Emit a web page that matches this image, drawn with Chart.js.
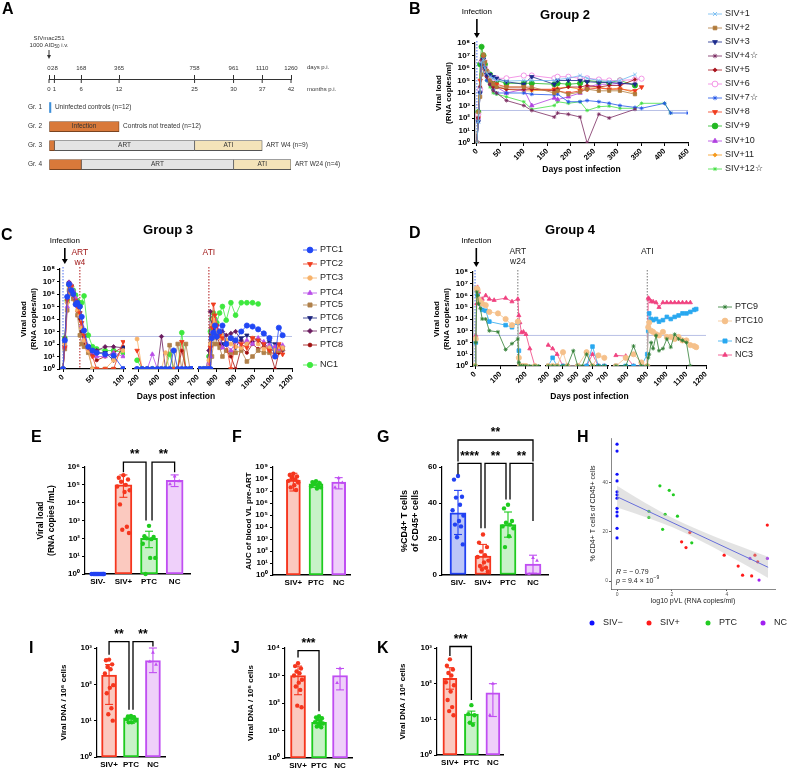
<!DOCTYPE html>
<html>
<head>
<meta charset="utf-8">
<title>SIV viral load figure</title>
<script src="https://cdn.jsdelivr.net/npm/chart.js@4.4.1/dist/chart.umd.min.js"></script>
<style>
  body { margin: 0; width: 793px; height: 772px; position: relative; overflow: hidden; background: #fff;
         font-family: "Liberation Sans", Arial, sans-serif; }
  canvas { position: absolute; }
  .lab { position: absolute; font-weight: bold; font-size: 16px; line-height: 1; }
  .ttl { position: absolute; font-weight: bold; font-size: 13px; line-height: 1; transform: translateX(-50%); white-space: nowrap; }
</style>
</head>
<body>
<canvas id="cA" width="400" height="185" style="left:0;top:0"></canvas>
<canvas id="cB" width="393" height="185" style="left:400px;top:0"></canvas>
<canvas id="cC" width="400" height="185" style="left:0;top:225px"></canvas>
<canvas id="cD" width="393" height="185" style="left:400px;top:225px"></canvas>
<canvas id="cE" width="180" height="160" style="left:20px;top:440px"></canvas>
<canvas id="cF" width="145" height="160" style="left:215px;top:440px"></canvas>
<canvas id="cG" width="185" height="180" style="left:375px;top:420px"></canvas>
<canvas id="cH" width="223" height="210" style="left:570px;top:430px"></canvas>
<canvas id="cI" width="160" height="147" style="left:20px;top:625px"></canvas>
<canvas id="cJ" width="150" height="147" style="left:215px;top:625px"></canvas>
<canvas id="cK" width="145" height="147" style="left:370px;top:625px"></canvas>

<div class="lab" style="left:2px;top:1px">A</div>
<div class="lab" style="left:409px;top:1px">B</div>
<div class="lab" style="left:1px;top:227px">C</div>
<div class="lab" style="left:409px;top:225px">D</div>
<div class="lab" style="left:31px;top:429px">E</div>
<div class="lab" style="left:232px;top:429px">F</div>
<div class="lab" style="left:377px;top:429px">G</div>
<div class="lab" style="left:577px;top:429px">H</div>
<div class="lab" style="left:29px;top:640px">I</div>
<div class="lab" style="left:231px;top:640px">J</div>
<div class="lab" style="left:377px;top:640px">K</div>
<div class="ttl" style="left:565px;top:8px">Group 2</div>
<div class="ttl" style="left:168px;top:223px">Group 3</div>
<div class="ttl" style="left:570px;top:223px">Group 4</div>

<script>
// ---------- A : study design ----------
const aRows = ['', 'Gr. 1', 'Gr. 2', 'Gr. 3', 'Gr. 4'];
const aDays = [0, 28, 168, 365, 758, 961, 1110, 1260];
const aMonths = [0, 1, 6, 12, 25, 30, 37, 42];
const aUninfected = [null, [0, 10], null, null, null];
const aInfection = [null, null, [0, 365], [0, 28], [0, 168]];
const aART = [null, null, null, [28, 758], [168, 961]];
const aATI = [null, null, null, [758, 1110], [961, 1260]];
const aNotes = ['', 'Uninfected controls (n=12)', 'Controls not treated (n=12)', 'ART W4 (n=9)', 'ART W24 (n=4)'];

// ---------- B : Group 2 (untreated) ----------
const g2Days = [0, 3, 7, 10, 14, 17, 21, 28, 35, 42, 63, 100, 117, 165, 172, 195, 220, 235, 260, 282, 305, 337, 351, 400, 413, 450];
const g2Names = ['SIV+1', 'SIV+2', 'SIV+3', 'SIV+4☆', 'SIV+5', 'SIV+6', 'SIV+7☆', 'SIV+8', 'SIV+9', 'SIV+10', 'SIV+11', 'SIV+12☆'];
const SIV1 = [1, 50, 2e4, 3e6, 5e6, 1e6, 4e5, 2e5, 1.5e5, 1e5, 9e4, 1e5, 1e5, 1e5, 1.2e5, 1.5e5, 2.5e5, 1.5e5, 1e5, 8e4, 1e5, 3e5, null, null, null, null];
const SIV2 = [1, 300, 5e3, 3e5, 1.2e7, 3e6, 6e5, 1e5, 5e4, 3e4, 3e4, 3e4, 3e4, 1e4, 1.5e4, 8e3, 1.2e4, 2e4, 1.5e4, 1.5e4, 1.5e4, 8e3, null, null, null, null];
const SIV3 = [1, 50, 1e4, 2e6, 5e6, 1e6, 3e5, 3e5, 2e5, 1.5e5, 8e4, 5e4, 2e5, 5e4, 1e5, 1e5, 1e5, 8e4, 7e4, 7e4, 6e4, 5e4, null, null, null, null];
const SIV4 = [1, 100, 3e4, 5e6, 3e6, 8e5, 2e5, 5e4, 1.5e4, 1e4, 2.5e3, 1e3, 400, 120, 250, 200, 120, 1, 200, 100, null, 500, null, null, null, null];
const SIV5 = [1, 100, 3e4, 4e6, 3e6, 8e5, 2e5, 5e4, 3e4, 3e4, 2e4, 2e4, 2e4, 1.5e4, 2e4, 3e4, 3e4, 4e4, 3e4, 4e4, 4e4, 1.2e5, null, null, null, null];
const SIV6 = [1, 200, 2e4, 3e6, 4e6, 1e6, 5e5, 2e5, 1.5e5, 1.5e5, 1.5e5, 2.5e5, 2.5e5, 1.5e5, 2e5, 2e5, 1.5e5, 1.5e5, 1.2e5, 1e5, 1e5, 1.2e5, 1.4e5, null, null, null];
const SIV7 = [1, 50, 1e4, 2e6, 3e6, 5e5, 1e5, 5e4, 2e4, 1e4, 1e4, 1e4, 8e3, 7e3, 8e3, 2e3, 2e3, 2.5e3, 2e3, 1.5e3, 1e3, 700, 600, 1.5e3, 250, 250];
const SIV8 = [1, 100, 1e5, 3e6, 8e6, 3e6, 5e5, 1e5, 6e4, 5e4, 3e4, 3e4, 2e4, 2e4, 1.5e4, 1e4, 1.5e4, 2e4, 2.5e4, 2e4, 2e4, 1.5e4, 3e4, null, null, null];
const SIV9 = [1, 300, 2e6, 5e7, 1e7, 2e6, 5e5, 3e5, 1e5, 1e5, 6e4, 6e4, 6e4, 5e4, 6e4, 5e4, 6e4, 1e5, 8e4, 7e4, 1e5, 4e4, null, null, null, null];
const SIV10 = [1, 100, 2e4, 3e6, 5e6, 1e6, 3e5, 1e5, 5e4, 3e4, 1e4, 2e4, 1e3, 4e3, 3e3, 5e3, 1e4, 3e4, 5e4, 5e4, 6e4, 5e4, null, null, null, null];
const SIV11 = [1, 200, 3e4, 4e6, 6e6, 1.5e6, 3e5, 1e5, 4e4, 3e4, 2e4, 1.5e4, 1.5e4, 2e4, 2.5e4, 3e4, 2e4, 3e4, 3e4, 2e4, 2.5e4, 1e4, null, null, null, null];
const SIV12 = [1, 100, 2e4, 2e6, 3e6, 5e5, 1e5, 3e4, 1e4, 8e3, 5e3, 2e3, 500, 1e3, 2e3, 1.5e3, 2e3, 400, 800, 900, 600, 600, 1.5e3, 1.5e3, 250, null];
const g2Ticks = [0, 50, 100, 150, 200, 250, 300, 350, 400, 450];

// ---------- C : Group 3 (ART week 4) ----------
const g3Days = [0, 3, 7, 10, 14, 17, 21, 24, 28, 31, 35, 42, 49, 56, 70, 84, 100,
  190, 240, 290, 340, 390, 430, 470, 510, 550, 590, 630, 670, 710,
  730, 745, 758, 766, 774, 782, 790, 800, 815, 830, 850, 875, 900, 930, 960, 990, 1020, 1050, 1080, 1110, 1130, 1150];
const g3Names = ['PTC1', 'PTC2', 'PTC3', 'PTC4', 'PTC5', 'PTC6', 'PTC7', 'PTC8', 'NC1'];
const PTC1 = [1, 200, 6e5, 6e6, 2e6, 1e6, 1.5e5, 2e5, 1e5, 1.5e4, 1.2e3, 60, 30, 20, 15, 12, 1,
  1, 1, 1, 1, 1, 1, 1, 1, 30, 1, 1, 1, 1,
  1, 1, 1, 1, 300, 800, 3e3, 400, 1e3, 3e3, 100, 300, 200, 1e3, 3e3, 2500, 1500, 700, 300, 10, 2000, 500];
const PTC2 = [1, 50, 3e5, 5e6, 4e6, 8e5, 3e5, 1e5, 3e4, 5e3, 500, 50, 10, 1, 1, 1, 150,
  30, 1, 1, 1, 1, 1, 1, 1, 1, 1, 150, 1, 1,
  1, 1, 1, 50, 2e3, 1.5e5, 2e4, 3e3, 500, 300, 100, 1, 200, 100, 50, 300, 200, 100, 30, 10, 100, 15];
const PTC3 = [1, 100, 2e5, 4e6, 3e6, 1e6, 2e5, 5e4, 2e4, 2e3, 200, 30, 1, 1, 1, 5, 30,
  250, 1, 1, 1, 1, 1, 20, 1, 1, 1, 1, 1, 1,
  1, 1, 5, 100, 3e3, 1e4, 5e3, 1e3, 300, 500, 200, 100, 60, 50, 100, 300, 100, 40, 50, 30, 60, 50];
const PTC4 = [1, 60, 1e5, 8e6, 5e6, 2e6, 5e5, 1e5, 2e4, 3e3, 300, 40, 20, 10, 10, 20, 10,
  1, 1, 1, 15, 1, 1, 1, 1, 1, 1, 1, 1, 1,
  1, 1, 3, 10, 1e3, 3e3, 1e4, 2e3, 300, 50, 100, 30, 150, 80, 200, 100, 300, 150, 80, 60, 40, 80];
const PTC5 = [1, 40, 5e4, 2e6, 1e6, 4e5, 2e5, 2e4, 500, 100, 60, 20, 1, 1, 1, 1, 1,
  1, 1, 1, 1, 1, 1, 1, 80, 1, 100, 1, 100, 1,
  1, 1, 1, 1, 10, 100, 500, 100, 50, 10, 30, 20, 20, 30, 4, 10, 30, 20, 20, 50, 30, 40];
const PTC6 = [1, 100, 5e5, 7e6, 4e6, 1e6, 2e5, 1e5, 3e4, 2e3, 300, 60, 30, 20, 20, 5, 50,
  1, 1, 1, 1, 1, 1, 1, 1, 1, 1, 1, 1, 1,
  1, 1, 1, 1, 500, 3e3, 1e3, 300, 500, 100, 200, 300, 50, 300, 500, 300, 200, 100, 150, 100, 60, 50];
const PTC7 = [1, 80, 2e5, 9e6, 5e6, 1.5e6, 3e5, 1e5, 2e4, 1e3, 200, 40, 15, 30, 60, 60, 50,
  1, 1, 1, 1, 1, 400, 1, 1, 1, 1, 1, 1, 1,
  1, 1, 30, 4e4, 3e3, 1e3, 5e3, 3e3, 500, 1e3, 500, 700, 1e3, 200, 100, 150, 200, 100, 50, 20, 80, 30];
const PTC8 = [1, 300, 4e5, 5e6, 2e6, 5e5, 2e5, 4e4, 1e4, 800, 100, 30, 20, 5, 10, 20, 60,
  1, 1, 1, 1, 1, 1, 1, 1, 1, 1, 30, 1, 1,
  1, 1, 1, 10, 300, 2e3, 1e3, 500, 100, 80, 30, 10, 1, 50, 20, 100, 40, 60, 30, 1, 20, 40];
const NC1 = [1, 300, 3e5, 5e6, 4e6, 2e6, 8e5, 3e5, 1e5, 2e5, 7e5, 500, 60, 40, 30, 30, 20,
  5, 1, 1, 1, 1, 1, 1, 15, 1, 1, 800, 1, 1,
  1, 1, 10, 1e3, 1e4, 3e4, 1e4, 5e3, 3e4, 1e5, 8e3, 2e5, 2e4, 2e5, 2e5, 2e5, 1.6e5, null, null, null, null, null];

// ---------- D : Group 4 (ART week 24) ----------
const g4Days = [0, 3, 7, 10, 14, 21, 28, 42, 56, 75, 90, 120, 145, 168, 172, 176, 182, 190, 200, 215, 235, 250,
  300, 330, 360, 400, 430, 470, 500, 530, 560, 600, 640, 680,
  740, 790, 830, 870, 900, 905, 910, 920, 930, 945, 960, 980, 1000, 1020, 1040, 1060, 1080, 1100, 1120, 1140, 1150];
const g4Names = ['PTC9', 'PTC10', 'NC2', 'NC3'];
const PTC9 = [1, 100, 2e6, 1e6, 2e5, 8e4, 1e4, 1e4, 1e3, null, 800, 25, 80, 200, 2, 1, 1, 1, 1, 1, 1, 1,
  1, 1, 1, 1, 1, 20, 1, 1, 10, 1, 1, 1,
  1, 1, 50, 1, 1, 5, 10, 100, 30, 400, 20, 30, 200, 40, 500, 200, 150, 100, 1, null, null];
const PTC10 = [1, 200, 4e6, 3e6, 5e5, 3e5, 2e5, 1.5e5, 4e4, null, 3e4, 1e4, 3e3, 6e3, 5, 1, 1, 1, 1, null, 1, null,
  1, 1, 1, 15, 1, null, 1, null, 15, 1, 8, 5,
  1, 5, 10, 2, 1, 2e3, 5e3, 1e3, 800, 500, 400, 800, 300, 300, 200, 300, 150, 150, 60, 50, 40];
const NC2 = [1, 100, 4e6, 1e6, 5e5, 2e5, 6e4, 5e4, 6e3, null, null, 3e3, 2e3, 5e3, 20, 1, 1, 1, null, null, null, null,
  1, 5, 1, 1, 1, null, 1, null, 1, 45, 1, 1,
  1, 1, 1, 1, 10, 1e3, 3e4, 1e4, 8e3, 1e4, 6e3, 8e3, 1.5e4, 1e4, 1.5e4, 2e4, 3e4, 3e4, 4e4, 6e4, 7e4];
const NC3 = [1, 400, 2e5, 5e6, 2e6, 3e5, 5e5, 1e6, 5e5, 4e5, null, 6e5, 3e5, 5e5, 2e4, 5e3, 700, 800, 500, 30, 1, null,
  60, 30, 10, 1, 1, null, 1, null, 1, 10, 1, 1,
  8, 7, 1, 1, 1, 6e5, 5e5, 3e5, 3e5, 2.5e5, 1e5, 2.5e5, 2.5e5, 2.5e5, 2.5e5, 2.5e5, 2.5e5, 2.5e5, 2.5e5, null, null];

// ---------- E / F / G : group summaries ----------
const eLabels = ['SIV-', 'SIV+', 'PTC', 'NC'];
const eMean = [1, 1e5, 100, 1.8e5];
const eLo = [1, 2e4, 30, 8e4];
const eHi = [1, 3.6e5, 250, 3.6e5];
const eSIVneg = [1, 1, 1, 1, 1, 1, 1, 1, 1, 1, 1, 1];
const eSIVpos = [3.5e5, 2.5e5, 2e5, 1.5e5, 1e5, 8e4, 5e4, 4e4, 8e3, 450, 300, 200];
const ePTC = [500, 130, 120, 100, 90, 50, 8, 8, 1];
const eNC = [3e5, 1.1e5, 1.6e5];

const fLabels = ['SIV+', 'PTC', 'NC'];
const fMean = [8e7, 4e7, 5.5e7];
const fLo = [1e7, 2e7, 1.5e7];
const fHi = [3e8, 6.5e7, 1.3e8];
const fSIVpos = [2.8e8, 2.2e8, 1.6e8, 1.2e8, 9e7, 7e7, 5e7, 3e7, 2e7, 1.2e7, 1.5e8, 6e7];
const fPTC = [6.5e7, 5.5e7, 4.5e7, 4e7, 3e7, 2.5e7, 2e7, 1.6e7, 3.5e7];
const fNC = [1.2e8, 2e7, 5e7];

const gLabels = ['SIV-', 'SIV+', 'PTC', 'NC'];
const gMean = [34.5, 10.5, 28, 6];
const gLo = [22.5, 4, 21, 1];
const gHi = [47, 17, 35, 11];
const gSIVneg = [55, 53, 43.5, 43, 39, 36, 33, 30, 28, 27, 21, 17];
const gSIVpos = [22.5, 18, 15.5, 13, 11, 10, 8, 7, 5, 4, 3, 2];
const gPTC = [39, 37, 30, 29, 28, 27, 26, 21.5, 15.5];
const gNC = [9.5, 0.5, 8];

// ---------- H : correlation ----------
const hSIVnegX = [0, 0, 0, 0, 0, 0, 0, 0, 0, 0, 0, 0];
const hSIVnegY = [55.5, 52.7, 43.3, 40.6, 36.2, 35, 33.6, 29.5, 28, 26.4, 21.4, 17.5];
const hSIVposX = [2.35, 2.51, 2.65, 3.9, 4.41, 4.57, 4.9, 5.02, 5.12, 5.47];
const hSIVposY = [15.9, 13.6, 19.7, 10.5, 6.1, 2.4, 2.1, 10.5, 7.8, 22.7];
const hPTCX = [1.56, 1.9, 2.05, 1.16, 1.16, 1.75, 2.2, 1.66, 2.72];
const hPTCY = [38.6, 36.8, 35, 28.3, 25.8, 27.1, 26.3, 21, 15.5];
const hNCX = [4.84, 5.17, 5.47];
const hNCY = [9.2, 0.4, 9.2];
const hFitX = [0, 5.5];
const hFitY = [34.2, 5.6];
const hBandX = [0, 0.5, 1, 1.5, 2, 2.5, 3, 3.5, 4, 4.5, 5, 5.5];
const hBandHi = [38.6, 35.2, 31.9, 28.7, 25.7, 23.0, 20.6, 18.3, 16.1, 14.0, 11.9, 9.9];
const hBandLo = [29.8, 28.0, 26.1, 24.1, 21.9, 19.4, 16.6, 13.7, 10.7, 7.6, 4.5, 1.3];

// ---------- I / J / K : viral DNA ----------
const dnaLabels = ['SIV+', 'PTC', 'NC'];
const iMean = [180, 12, 450];
const iLo = [28, 8.5, 210];
const iHi = [350, 13.5, 1000];
const iSIVpos = [480, 460, 355, 300, 260, 200, 95, 80, 57, 22, 15, 10];
const iPTC = [13.5, 13, 12.5, 12.5, 12, 11, 10, 9, 9];
const iNC = [750, 420, 350];
const jMean = [1000, 20, 1000];
const jLo = [200, 14, 300];
const jHi = [2200, 30, 1800];
const jSIVpos = [2800, 2200, 1800, 1400, 1200, 1000, 700, 550, 400, 300, 80, 70];
const jPTC = [33, 30, 28, 25, 22, 20, 18, 16, 14, 13, 15];
const jNC = [1800, 540];
const kMean = [140, 14, 55];
const kLo = [70, 8, 12];
const kHi = [280, 17, 100];
const kSIVpos = [480, 320, 250, 200, 170, 110, 90, 60, 35, 22, 17, 13];
const kPTC = [25, 14, 13, 8, 7];
const kNC = [100, 13];

// ---------- common settings ----------
const FONT = '"Liberation Sans", Arial, sans-serif';
Chart.defaults.font.family = FONT;
Chart.defaults.color = '#000';
Chart.defaults.animation = false;
Chart.defaults.responsive = false;
Chart.defaults.devicePixelRatio = 1;
Chart.defaults.plugins.legend.display = false;
Chart.defaults.plugins.tooltip.enabled = false;

const SUP = '⁰¹²³⁴⁵⁶⁷⁸⁹';
const pow10 = v => '10' + String(Math.round(Math.log10(v))).split('').map(d => SUP[+d]).join('');
const JIT = [0, -0.2, 0.2, -0.1, 0.1, -0.27, 0.27, 0.05, -0.15, 0.15, -0.05, 0.24];

const GROUP = {
  'SIV-': { line: '#2141f2', fill: '#bcc6f8', shape: 'circle' },
  'SIV+': { line: '#f5361e', fill: '#fbc9bf', shape: 'circle' },
  'PTC':  { line: '#1fcb1f', fill: '#c8f2c8', shape: 'circle' },
  'NC':   { line: '#c04ef2', fill: '#efd0fa', shape: 'triangle' }
};

function txt(ctx, s, x, y, font, color, align, base) {
  ctx.font = font; ctx.fillStyle = color || '#000';
  ctx.textAlign = align || 'center'; ctx.textBaseline = base || 'middle';
  ctx.fillText(s, x, y);
}
function seg(ctx, x1, y1, x2, y2, color, w, dash) {
  ctx.save();
  ctx.strokeStyle = color; ctx.lineWidth = w; ctx.setLineDash(dash || []);
  ctx.beginPath(); ctx.moveTo(x1, y1); ctx.lineTo(x2, y2); ctx.stroke();
  ctx.restore();
}
function arrowDown(ctx, x, y1, y2) {
  seg(ctx, x, y1, x, y2 - 4, '#000', 1.6);
  ctx.fillStyle = '#000';
  ctx.beginPath(); ctx.moveTo(x - 3, y2 - 5); ctx.lineTo(x + 3, y2 - 5); ctx.lineTo(x, y2); ctx.closePath(); ctx.fill();
}
function marker(ctx, st, x, y) {
  seg(ctx, x - 7, y, x + 7, y, st.c, 0.8);
  ctx.save();
  ctx.fillStyle = st.hollow ? '#fff' : st.c; ctx.strokeStyle = st.c; ctx.lineWidth = 0.8;
  Chart.helpers.drawPoint(ctx, { pointStyle: st.s, rotation: st.rot || 0, radius: st.r + 0.3, borderWidth: 0.8 }, x, y);
  ctx.restore();
}

function logAxis(min, max, w, title, tsize) {
  return {
    type: 'logarithmic', position: 'left', min, max,
    afterBuildTicks: s => { const t = []; for (let v = min; v <= max * 1.001; v *= 10) t.push({ value: v }); s.ticks = t; },
    afterFit: s => { s.width = w; },
    ticks: { callback: v => pow10(v), font: { size: 8, weight: 'bold' }, color: '#000', padding: 2, autoSkip: false },
    grid: { drawOnChartArea: false, tickLength: 3, color: '#000' },
    border: { color: '#000', width: 1.2 },
    title: { display: true, text: title, font: { size: tsize || 8, weight: 'bold' }, color: '#000', padding: 1 }
  };
}

// ---------- A ----------
new Chart(document.getElementById('cA'), {
  type: 'bar',
  data: {
    labels: aRows,
    datasets: [
      { label: '', data: aUninfected, backgroundColor: '#3d8fd9', borderWidth: 0 },
      { label: 'Infection', data: aInfection, backgroundColor: '#d9793a', borderColor: '#7a4420', borderWidth: 0.8 },
      { label: 'ART', data: aART, backgroundColor: '#e4e4e4', borderColor: '#555', borderWidth: 0.8 },
      { label: 'ATI', data: aATI, backgroundColor: '#f4e3b9', borderColor: '#555', borderWidth: 0.8 }
    ].map(d => Object.assign(d, { grouped: false, barThickness: 10, borderSkipped: false }))
  },
  options: {
    indexAxis: 'y',
    layout: { padding: { left: 23, top: 59, right: 109, bottom: 6 } },
    scales: {
      x: {
        position: 'top', min: 0, max: 1260, offset: false,
        afterBuildTicks: s => { s.ticks = aDays.map(v => ({ value: v })); },
        afterFit: s => { s.height = 20; },
        ticks: { callback: v => String(v), font: { size: 6 }, color: '#333', padding: 3, maxRotation: 0, autoSkip: false },
        grid: { drawOnChartArea: false, tickLength: 4, color: '#333' },
        border: { color: '#333', width: 1 }
      },
      y: {
        afterFit: s => { s.width = 26; },
        ticks: { font: { size: 6.5 }, color: '#333', padding: 7 },
        grid: { display: false, drawTicks: false }, border: { display: false }
      }
    }
  },
  plugins: [{
    id: 'design',
    afterDraw(chart) {
      const ctx = chart.ctx, xs = chart.scales.x, ys = chart.scales.y, top = chart.chartArea.top;
      const f6 = '6px ' + FONT;
      aDays.forEach((d, i) => {
        const x = xs.getPixelForValue(d);
        seg(ctx, x, top, x, top + 4, '#333', 1);
        txt(ctx, String(aMonths[i]), x, top + 10, f6, '#333');
      });
      txt(ctx, 'days p.i.', 307, 67, f6, '#333', 'left');
      txt(ctx, 'months p.i.', 307, 89, f6, '#333', 'left');
      const x0 = xs.getPixelForValue(0);
      txt(ctx, 'SIVmac251', x0, 38, f6, '#333');
      ctx.font = f6; const w1 = ctx.measureText('1000 AID').width;
      ctx.font = '4.5px ' + FONT; const w2 = ctx.measureText('50').width;
      ctx.font = f6; const w3 = ctx.measureText(' i.v.').width;
      let sx = x0 - (w1 + w2 + w3) / 2;
      txt(ctx, '1000 AID', sx, 45, f6, '#333', 'left'); sx += w1;
      txt(ctx, '50', sx, 47, '4.5px ' + FONT, '#333', 'left'); sx += w2;
      txt(ctx, ' i.v.', sx, 45, f6, '#333', 'left');
      seg(ctx, x0, 50, x0, 55, '#333', 1);
      ctx.fillStyle = '#333';
      ctx.beginPath(); ctx.moveTo(x0 - 2, 55); ctx.lineTo(x0 + 2, 55); ctx.lineTo(x0, 59); ctx.closePath(); ctx.fill();
      const sets = [aUninfected, aInfection, aART, aATI];
      [1, 2, 3].forEach(k => {
        const ds = chart.data.datasets[k];
        sets[k].forEach((r, i) => {
          if (!r) return;
          const a = xs.getPixelForValue(r[0]), b = xs.getPixelForValue(r[1]);
          if (b - a > 40) txt(ctx, ds.label, (a + b) / 2, ys.getPixelForValue(i), '6.5px ' + FONT, '#333');
        });
      });
      aNotes.forEach((n, i) => {
        if (!n) return;
        let end = 0;
        sets.forEach(s => { if (s[i]) end = Math.max(end, s[i][1]); });
        txt(ctx, n, xs.getPixelForValue(end) + 4, ys.getPixelForValue(i), '6.5px ' + FONT, '#333', 'left');
      });
    }
  }]
});

// ---------- viral load time courses ----------
function vlPanel(id, o) {
  const scales = { y: logAxis(1, 1e8, o.yW, ['Viral load', '(RNA copies/ml)']) };
  o.segs.forEach((sg, i) => {
    scales['s' + i] = {
      type: 'linear', position: 'bottom', stack: 'days', stackWeight: sg.w, min: sg.min, max: sg.max, offset: false,
      afterBuildTicks: s => { s.ticks = sg.ticks.map(v => ({ value: v })); },
      afterFit: s => { s.height = o.xH; },
      ticks: { callback: v => String(v), minRotation: 45, maxRotation: 45, font: { size: 7.5, weight: 'bold' }, color: '#000', padding: 1, autoSkip: false },
      grid: { drawOnChartArea: false, tickLength: 3, color: '#000' },
      border: { color: '#000', width: 1.2 }
    };
    if (sg.gap) {
      scales['g' + i] = {
        type: 'linear', position: 'bottom', stack: 'days', stackWeight: sg.gap, min: 0, max: 1,
        afterFit: s => { s.height = o.xH; },
        ticks: { display: false }, grid: { display: false }, border: { display: false }
      };
    }
  });
  const datasets = [];
  o.series.forEach((vals, k) => {
    const st = o.styles[k];
    o.segs.forEach((sg, i) => {
      const pts = [];
      o.days.forEach((d, j) => { if (vals[j] !== null && d >= sg.min && d <= sg.max) pts.push({ x: d, y: vals[j] }); });
      datasets.push({
        data: pts, xAxisID: 's' + i, yAxisID: 'y',
        borderColor: st.c, borderWidth: 0.8, tension: 0,
        pointRadius: st.r, pointStyle: st.s, pointRotation: st.rot || 0,
        pointBackgroundColor: st.hollow ? '#fff' : st.c, pointBorderColor: st.c, pointBorderWidth: 0.8
      });
    });
  });
  new Chart(document.getElementById(id), {
    type: 'line',
    data: { datasets },
    options: { layout: { padding: o.pad }, scales },
    plugins: [{
      id: 'vldeco',
      beforeDatasetsDraw(chart) {
        const ctx = chart.ctx, a = chart.chartArea;
        const yl = chart.scales.y.getPixelForValue(o.lod);
        seg(ctx, a.left, yl, a.right, yl, '#b8c0e6', 1);
        o.vlines.forEach(v => {
          const x = chart.scales[v.axis].getPixelForValue(v.value);
          seg(ctx, x, a.top - 2, x, a.bottom, v.color, 1, [1.5, 1.5]);
        });
      },
      afterDraw(chart) {
        const ctx = chart.ctx, a = chart.chartArea;
        o.notes.forEach(n => {
          const x = chart.scales[n.axis].getPixelForValue(n.value);
          n.lines.forEach((l, i) => txt(ctx, l, x, n.y + i * 10, '8.5px ' + FONT, n.color));
        });
        const xa = chart.scales[o.arrow.axis].getPixelForValue(o.arrow.value);
        txt(ctx, 'Infection', xa, o.arrow.y - 7, '8px ' + FONT, '#000');
        arrowDown(ctx, xa, o.arrow.y, o.arrow.y2);
        txt(ctx, 'Days post infection', (a.left + a.right) / 2, o.xTitleY, 'bold 8.5px ' + FONT, '#000');
        o.names.forEach((nm, k) => {
          marker(ctx, o.styles[k], o.legend.x, o.legend.y[k]);
          txt(ctx, nm, o.legend.x + 10, o.legend.y[k], '9px ' + FONT, '#222', 'left');
        });
      }
    }]
  });
}

vlPanel('cB', {
  days: g2Days, names: g2Names,
  series: [SIV1, SIV2, SIV3, SIV4, SIV5, SIV6, SIV7, SIV8, SIV9, SIV10, SIV11, SIV12],
  styles: [
    { c: '#6cb8f0', s: 'crossRot', r: 2.5 }, { c: '#b07a3a', s: 'rect', r: 2.3 },
    { c: '#1a2a8c', s: 'triangle', rot: 180, r: 2.5 }, { c: '#7a2a60', s: 'star', r: 2 },
    { c: '#a8141e', s: 'rectRot', r: 1.8 }, { c: '#f07de0', s: 'circle', r: 2.6, hollow: true },
    { c: '#2255e8', s: 'star', r: 2 }, { c: '#f03c1e', s: 'triangle', rot: 180, r: 2.6 },
    { c: '#22b822', s: 'circle', r: 2.6 }, { c: '#b040e0', s: 'triangle', r: 2.5 },
    { c: '#f59a1e', s: 'rectRot', r: 1.8 }, { c: '#44e044', s: 'star', r: 1.8 }
  ],
  segs: [{ min: -4, max: 450, w: 1, ticks: g2Ticks }],
  yW: 42, xH: 35, pad: { left: 33, top: 43, right: 105, bottom: 7 },
  lod: 400,
  vlines: [{ axis: 's0', value: 0, color: '#4a6cf0' }],
  notes: [], arrow: { axis: 's0', value: 0, y: 19, y2: 38 }, xTitleY: 170,
  legend: { x: 315, y: [14, 28, 42, 56, 70, 84, 98, 112, 126, 141, 155, 169] }
});

vlPanel('cC', {
  days: g3Days, names: g3Names,
  series: [PTC1, PTC2, PTC3, PTC4, PTC5, PTC6, PTC7, PTC8, NC1],
  styles: [
    { c: '#2147f5', s: 'circle', r: 2.6 }, { c: '#f03c1e', s: 'triangle', rot: 180, r: 2.6 },
    { c: '#f7b26a', s: 'circle', r: 2 }, { c: '#b94ce8', s: 'triangle', r: 2.5 },
    { c: '#b0804a', s: 'rect', r: 2.6 }, { c: '#1a237e', s: 'triangle', rot: 180, r: 2.5 },
    { c: '#6a1b5e', s: 'rectRot', r: 2.2 }, { c: '#a01010', s: 'circle', r: 1.6 },
    { c: '#3ee83e', s: 'circle', r: 2.4 }
  ],
  segs: [
    { min: -5, max: 103, w: 65, gap: 8, ticks: [0, 50, 100] },
    { min: 150, max: 740, w: 60, gap: 5, ticks: [200, 400, 600] },
    { min: 700, max: 1200, w: 94, ticks: [700, 800, 900, 1000, 1100, 1200] }
  ],
  yW: 42, xH: 35, pad: { left: 18, top: 44, right: 108, bottom: 6 },
  lod: 400,
  vlines: [{ axis: 's0', value: 0, color: '#4a6cf0' }, { axis: 's0', value: 28, color: '#b01818' }, { axis: 's2', value: 758, color: '#b01818' }],
  notes: [
    { axis: 's0', value: 28, y: 28, lines: ['ART', 'w4'], color: '#a01818' },
    { axis: 's2', value: 758, y: 28, lines: ['ATI'], color: '#a01818' }
  ],
  arrow: { axis: 's0', value: 3, y: 23, y2: 39 }, xTitleY: 172,
  legend: { x: 310, y: [25, 39, 53, 68, 80, 93, 106, 120, 140] }
});

vlPanel('cD', {
  days: g4Days, names: g4Names,
  series: [PTC9, PTC10, NC2, NC3],
  styles: [
    { c: '#2e7d32', s: 'star', r: 2 }, { c: '#f5c08a', s: 'circle', r: 2.6 },
    { c: '#29a8f0', s: 'rect', r: 2.6 }, { c: '#f0407f', s: 'triangle', r: 2.4 }
  ],
  segs: [
    { min: -8, max: 255, w: 67, gap: 6, ticks: [0, 100, 200] },
    { min: 285, max: 705, w: 62, gap: 4, ticks: [300, 400, 500, 600, 700] },
    { min: 720, max: 1200, w: 94, ticks: [800, 900, 1000, 1100, 1200] }
  ],
  yW: 42, xH: 35, pad: { left: 31, top: 47, right: 87, bottom: 9 },
  lod: 400,
  vlines: [{ axis: 's0', value: 0, color: '#4a6cf0' }, { axis: 's0', value: 168, color: '#777' }, { axis: 's2', value: 900, color: '#777' }],
  notes: [
    { axis: 's0', value: 168, y: 27, lines: ['ART', 'w24'], color: '#222' },
    { axis: 's2', value: 900, y: 27, lines: ['ATI'], color: '#222' }
  ],
  arrow: { axis: 's0', value: 5, y: 23, y2: 42 }, xTitleY: 172,
  legend: { x: 325, y: [82, 96, 116, 130] }
});

// ---------- bar + dot panels ----------
function barPanel(id, o) {
  const datasets = [{
    type: 'bar', data: o.means.map((v, i) => ({ x: i, y: v })),
    backgroundColor: o.labels.map(g => GROUP[g].fill), borderColor: o.labels.map(g => GROUP[g].line),
    borderWidth: 2, borderSkipped: false, barThickness: o.barW, order: 2
  }];
  o.dots.forEach((arr, i) => {
    const g = GROUP[o.labels[i]];
    datasets.push({
      type: 'scatter', data: arr.map((v, j) => ({ x: i + JIT[j % JIT.length] * o.spread, y: v })),
      pointStyle: g.shape, pointRadius: 2.2, backgroundColor: g.line, borderColor: g.line, borderWidth: 0, order: 1, clip: false
    });
  });
  const y = o.log ? logAxis(o.yMin, o.yMax, o.yW, o.yTitle, o.tSize) : {
    type: 'linear', min: o.yMin, max: o.yMax,
    afterBuildTicks: s => { s.ticks = o.yTicks.map(v => ({ value: v })); },
    afterFit: s => { s.width = o.yW; },
    ticks: { font: { size: 8, weight: 'bold' }, color: '#000', padding: 2, autoSkip: false },
    grid: { drawOnChartArea: false, tickLength: 3, color: '#000' },
    border: { color: '#000', width: 1.2 },
    title: { display: true, text: o.yTitle, font: { size: o.tSize || 8, weight: 'bold' }, color: '#000', padding: 1 }
  };
  new Chart(document.getElementById(id), {
    type: 'bar',
    data: { datasets },
    options: {
      layout: { padding: o.pad },
      scales: {
        x: {
          type: 'linear', min: o.xMin, max: o.xMax, offset: false,
          afterBuildTicks: s => { s.ticks = o.labels.map((l, i) => ({ value: i })); },
          afterFit: s => { s.height = o.xH; },
          ticks: { callback: v => o.labels[v], font: { size: 8, weight: 'bold' }, color: '#000', padding: 3, autoSkip: false, maxRotation: 0 },
          grid: { display: false, drawTicks: false },
          border: { color: '#000', width: 1.4 }
        },
        y
      }
    },
    plugins: [{
      id: 'bardeco',
      afterDatasetsDraw(chart) {
        const ctx = chart.ctx, xs = chart.scales.x, ys = chart.scales.y;
        o.labels.forEach((g, i) => {
          const x = xs.getPixelForValue(i), col = GROUP[g].line;
          const yh = ys.getPixelForValue(o.hi[i]), yl = ys.getPixelForValue(o.lo[i]);
          if (Math.abs(yh - yl) < 1) return;
          seg(ctx, x, yh, x, yl, col, 1.1);
          seg(ctx, x - 4, yh, x + 4, yh, col, 1.1);
          seg(ctx, x - 4, yl, x + 4, yl, col, 1.1);
        });
        (o.brackets || []).forEach(b => {
          const xa = xs.getPixelForValue(b.a) + (b.ia || 0), xb = xs.getPixelForValue(b.b) - (b.ib || 0);
          const yt = ys.getPixelForValue(b.y);
          ctx.save();
          ctx.strokeStyle = '#000'; ctx.lineWidth = 1.3;
          ctx.beginPath();
          ctx.moveTo(xa, ys.getPixelForValue(b.la)); ctx.lineTo(xa, yt); ctx.lineTo(xb, yt); ctx.lineTo(xb, ys.getPixelForValue(b.lb));
          ctx.stroke(); ctx.restore();
          txt(ctx, b.text, (xa + xb) / 2, yt - 1, 'bold 12px ' + FONT, '#000', 'center', 'bottom');
        });
      }
    }]
  });
}

barPanel('cE', {
  labels: eLabels, means: eMean, lo: eLo, hi: eHi, dots: [eSIVneg, eSIVpos, ePTC, eNC],
  log: true, yMin: 1, yMax: 1e6, yTitle: ['Viral load', '(RNA copies /mL)'], tSize: 8.5,
  xMin: -0.5, xMax: 3.6, barW: 17, spread: 0.9, yW: 50, xH: 18,
  pad: { left: 15, top: 27, right: 10, bottom: 8 },
  brackets: [
    { a: 1, b: 2, y: 1.9e6, la: 5e5, lb: 1e3, text: '**', ib: 3 },
    { a: 2, b: 3, y: 1.9e6, la: 1e3, lb: 5e5, text: '**', ia: 3 }
  ]
});

barPanel('cF', {
  labels: fLabels, means: fMean, lo: fLo, hi: fHi, dots: [fSIVpos, fPTC, fNC],
  log: true, yMin: 1, yMax: 1e9, yTitle: 'AUC of blood VL pre-ART', tSize: 8,
  xMin: -0.9, xMax: 2.5, barW: 14, spread: 0.8, yW: 30, xH: 18,
  pad: { left: 28, top: 27, right: 10, bottom: 7 }
});

barPanel('cG', {
  labels: gLabels, means: gMean, lo: gLo, hi: gHi, dots: [gSIVneg, gSIVpos, gPTC, gNC],
  log: false, yMin: 0, yMax: 60, yTicks: [0, 20, 40, 60], yTitle: ['%CD4+ T cells', 'of CD45+ cells'], tSize: 9,
  xMin: -0.64, xMax: 3.6, barW: 16, spread: 0.8, yW: 44, xH: 18,
  pad: { left: 23, top: 47, right: 12, bottom: 7 },
  brackets: [
    { a: 0, b: 3, y: 75, la: 63, lb: 63, text: '**' },
    { a: 0, b: 1, y: 62, la: 56, lb: 26, text: '****', ib: 2 },
    { a: 1, b: 2, y: 62, la: 26, lb: 42, text: '**', ia: 2, ib: 2 },
    { a: 2, b: 3, y: 62, la: 42, lb: 30, text: '**', ia: 2 }
  ]
});

barPanel('cI', {
  labels: dnaLabels, means: iMean, lo: iLo, hi: iHi, dots: [iSIVpos, iPTC, iNC],
  log: true, yMin: 1, yMax: 1e3, yTitle: 'Viral DNA / 10⁶ cells', tSize: 8,
  xMin: -0.55, xMax: 2.55, barW: 15, spread: 0.7, yW: 39, xH: 13,
  pad: { left: 38, top: 23, right: 15, bottom: 2 },
  brackets: [
    { a: 0, b: 1, y: 1500, la: 650, lb: 20, text: '**', ib: 2 },
    { a: 1, b: 2, y: 1500, la: 20, lb: 1100, text: '**', ia: 2 }
  ]
});

barPanel('cJ', {
  labels: dnaLabels, means: jMean, lo: jLo, hi: jHi, dots: [jSIVpos, jPTC, jNC],
  log: true, yMin: 1, yMax: 1e4, yTitle: 'Viral DNA / 10⁶ cells', tSize: 8,
  xMin: -0.62, xMax: 2.57, barW: 15, spread: 0.7, yW: 40, xH: 13,
  pad: { left: 30, top: 23, right: 13, bottom: 1 },
  brackets: [{ a: 0, b: 1, y: 8000, la: 4500, lb: 50, text: '***' }]
});

barPanel('cK', {
  labels: dnaLabels, means: kMean, lo: kLo, hi: kHi, dots: [kSIVpos, kPTC, kNC],
  log: true, yMin: 1, yMax: 1e3, yTitle: 'Viral DNA / 10⁶ cells', tSize: 8,
  xMin: -0.6, xMax: 2.47, barW: 14, spread: 0.7, yW: 40, xH: 13,
  pad: { left: 27, top: 23, right: 12, bottom: 4 },
  brackets: [{ a: 0, b: 1, y: 1100, la: 600, lb: 35, text: '***' }]
});

// ---------- H : scatter with regression ----------
const hColors = { neg: '#1010ff', pos: '#ff1a1a', ptc: '#22cc22', nc: '#a020f0' };
const hPts = (xs, ys, c) => ({ type: 'scatter', data: xs.map((x, i) => ({ x, y: ys[i] })), pointRadius: 1.6, backgroundColor: c, borderWidth: 0 });
new Chart(document.getElementById('cH'), {
  type: 'scatter',
  data: {
    datasets: [
      { type: 'line', data: hBandX.map((x, i) => ({ x, y: hBandHi[i] })), borderWidth: 0, pointRadius: 0, fill: '+1', backgroundColor: 'rgba(185,185,185,0.4)' },
      { type: 'line', data: hBandX.map((x, i) => ({ x, y: hBandLo[i] })), borderWidth: 0, pointRadius: 0, fill: false },
      { type: 'line', data: hFitX.map((x, i) => ({ x, y: hFitY[i] })), borderColor: '#2f3cf0', borderWidth: 1, pointRadius: 0, fill: false },
      hPts(hSIVnegX, hSIVnegY, hColors.neg),
      hPts(hSIVposX, hSIVposY, hColors.pos),
      hPts(hPTCX, hPTCY, hColors.ptc),
      hPts(hNCX, hNCY, hColors.nc)
    ]
  },
  options: {
    layout: { padding: { left: 17, top: 8, right: 18, bottom: 35 } },
    scales: {
      x: {
        type: 'linear', min: -0.22, max: 5.75,
        afterBuildTicks: s => { s.ticks = [0, 2, 4].map(v => ({ value: v })); },
        afterFit: s => { s.height = 16; },
        ticks: { font: { size: 5 }, color: '#555', padding: 1 },
        grid: { drawOnChartArea: false, tickLength: 2, color: '#555' },
        border: { color: '#555', width: 0.7 },
        title: { display: true, text: 'log10 pVL (RNA copies/ml)', font: { size: 7 }, color: '#222', padding: 0 }
      },
      y: {
        type: 'linear', min: -3.2, max: 58,
        afterBuildTicks: s => { s.ticks = [0, 20, 40].map(v => ({ value: v })); },
        afterFit: s => { s.width = 24; },
        ticks: { font: { size: 5 }, color: '#555', padding: 1 },
        grid: { drawOnChartArea: false, tickLength: 2, color: '#555' },
        border: { color: '#555', width: 0.7 },
        title: { display: true, text: '% CD4+ T cells of CD45+ cells', font: { size: 7 }, color: '#222', padding: 2 }
      }
    }
  },
  plugins: [{
    id: 'hdeco',
    afterDraw(chart) {
      const ctx = chart.ctx;
      const f7 = '7px ' + FONT, f7i = 'italic 7px ' + FONT;
      txt(ctx, 'R', 46, 142, f7i, '#222', 'left');
      txt(ctx, ' = − 0.79', 51, 142, f7, '#222', 'left');
      txt(ctx, 'p', 46, 151, f7i, '#222', 'left');
      txt(ctx, ' = 9.4 × 10', 50, 151, f7, '#222', 'left');
      ctx.font = f7; const w = ctx.measureText(' = 9.4 × 10').width;
      txt(ctx, '−9', 50 + w, 148, '5px ' + FONT, '#222', 'left');
      const items = [['SIV−', hColors.neg, 22], ['SIV+', hColors.pos, 79], ['PTC', hColors.ptc, 138], ['NC', hColors.nc, 193]];
      items.forEach(([t, c, x]) => {
        ctx.fillStyle = c; ctx.beginPath(); ctx.arc(x, 193, 2.5, 0, Math.PI * 2); ctx.fill();
        txt(ctx, t, x + 11, 193, '9px ' + FONT, '#222', 'left');
      });
    }
  }]
});
</script>
</body>
</html>
